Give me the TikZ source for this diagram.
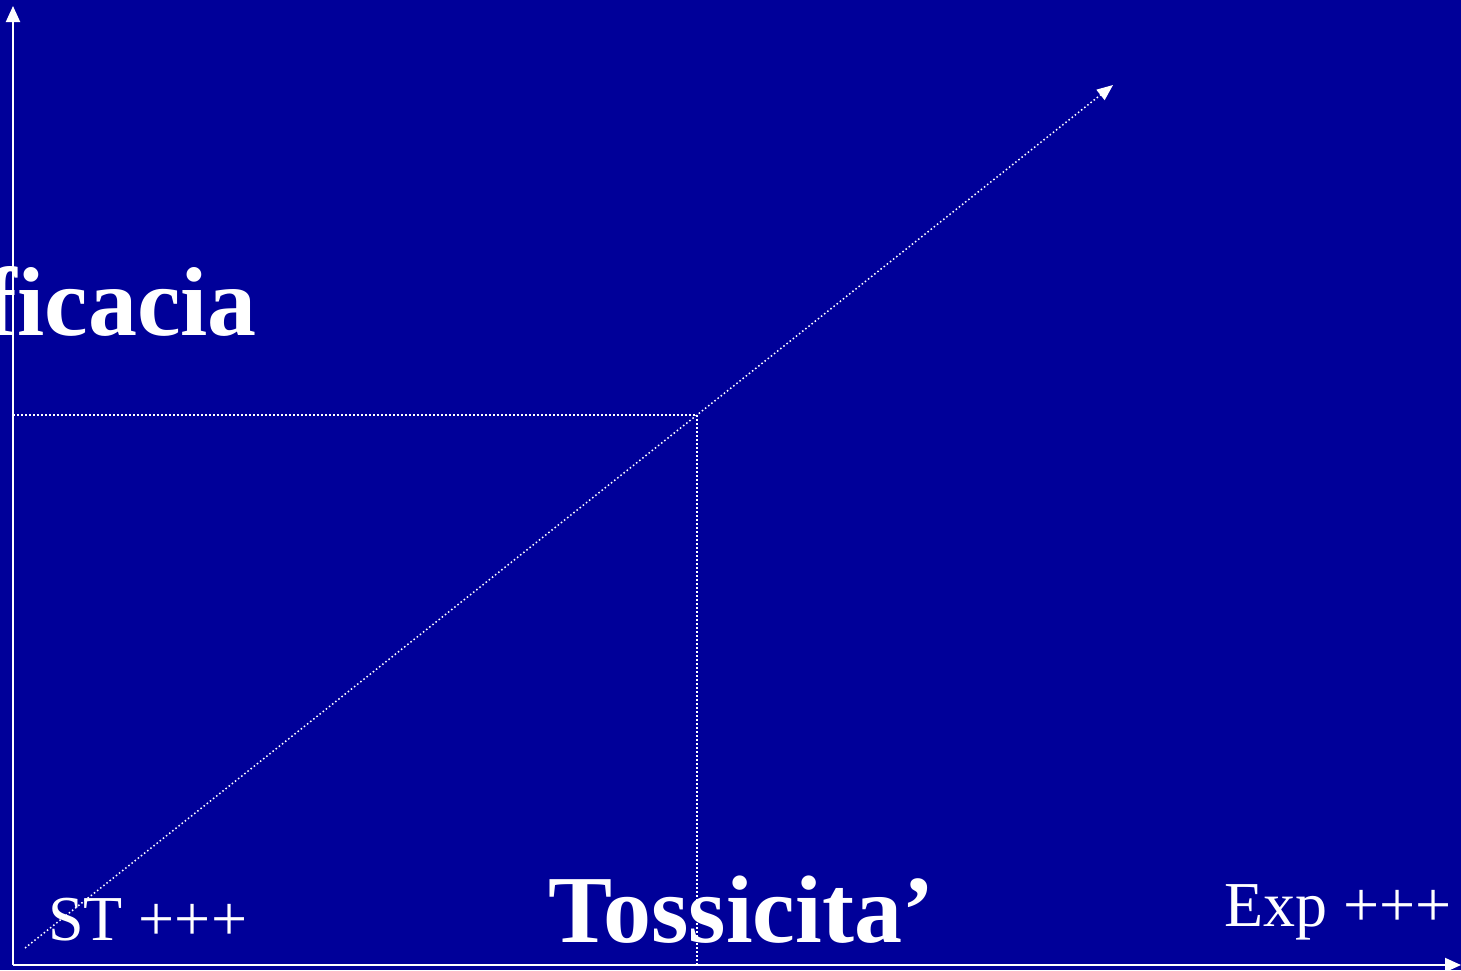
\documentclass[tikz,border=0pt]{standalone}
\usepackage{fontspec}
\setmainfont{Liberation Serif}
\usetikzlibrary{arrows.meta}
\definecolor{bgblue}{HTML}{000099}
\begin{document}
\begin{tikzpicture}[x=1pt,y=-1pt,
  axis/.style={white,line width=2pt,-{Triangle[length=16pt,width=14pt]}},
  guide/.style={white,line width=1.5pt,dash pattern=on 1.5pt off 2.5pt},
  big/.style={white,font=\bfseries\fontsize{96}{106}\selectfont,inner sep=0pt},
  small/.style={white,font=\fontsize{64}{74}\selectfont,inner sep=0pt}]
\fill[bgblue] (0,0) rectangle (1461,970);
\useasboundingbox (0,0) rectangle (1461,970);
\clip (0,0) rectangle (1461,970);
\coordinate (O) at (13,965);
\coordinate (Ytop) at (13,6);
\coordinate (Xend) at (1461,965);
\coordinate (Dstart) at (25,948);
\coordinate (Dend) at (1113,85);
\coordinate (P) at (697,415);
\coordinate (Py) at (13,415);
\coordinate (Px) at (697,965);
\draw[axis] (O) -- (Ytop);
\draw[axis] (O) -- (Xend);
\draw[guide] (Py) -- (P);
\draw[guide] (P) -- (Px);
\draw[guide,-{Triangle[length=16pt,width=13pt]}] (Dstart) -- (Dend);
\node[white,font=\bfseries\fontsize{98}{108}\selectfont,inner sep=0pt,anchor=base east] (eff) at (257,335) {Efficacia};
\node[big,anchor=base west] (tox) at (548,942) {Tossicita’};
\node[small,anchor=base west] (st) at (48,940) {ST +++};
\node[small,anchor=base east] (exp) at (1452,926) {Exp +++};
\end{tikzpicture}
\end{document}
